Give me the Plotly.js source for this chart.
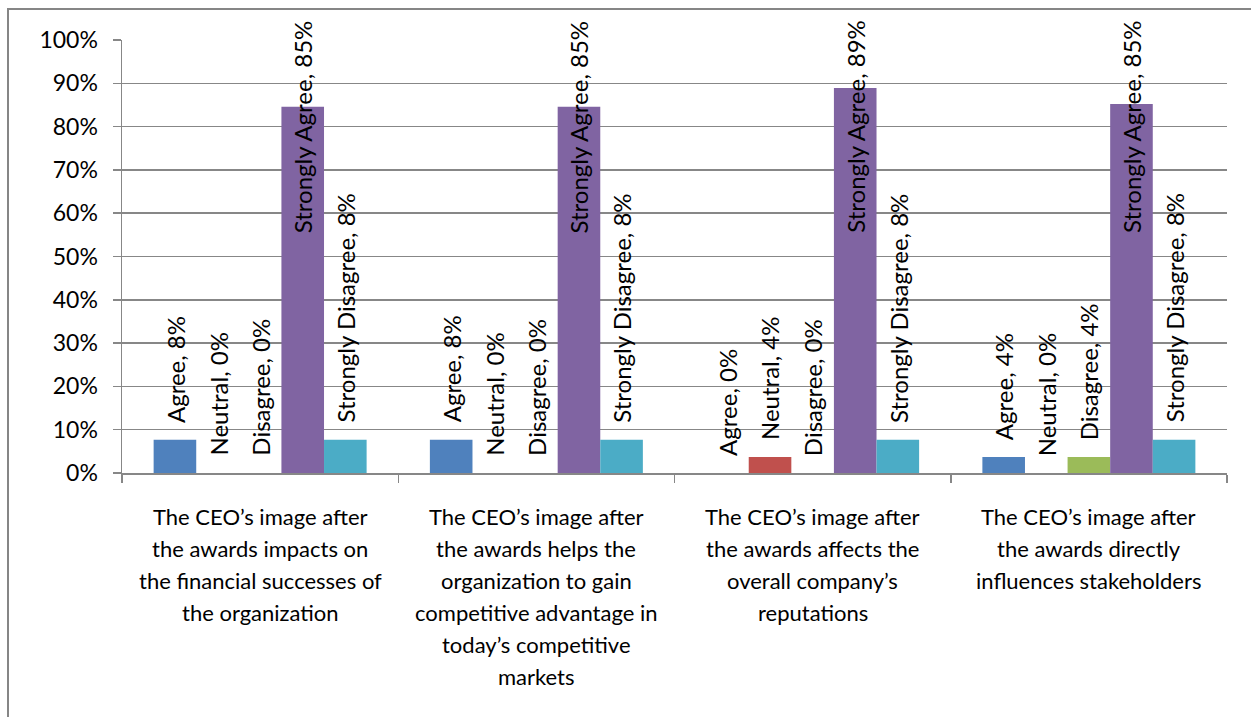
<!DOCTYPE html>
<html>
<head>
<meta charset="utf-8">
<script src="https://cdn.plot.ly/plotly-3.0.1.min.js"></script>
<style>
  html, body { margin: 0; padding: 0; overflow: hidden; background: #fff; }
  #chart { position: absolute; left: 0; top: 0; width: 1251px; height: 717px; }
  #frame { position: absolute; left: 7px; top: 8px; width: 1400px; height: 900px;
           border: 2px solid #868686; pointer-events: none; }
</style>
</head>
<body>
<div id="chart"></div>
<div id="frame"></div>
<script>
// ---- data ----
const categories = [
  "The CEO’s image after<br>the awards impacts on<br>the financial successes of<br>the organization",
  "The CEO’s image after<br>the awards helps the<br>organization to gain<br>competitive advantage in<br>today’s competitive<br>markets",
  "The CEO’s image after<br>the awards affects the<br>overall company’s<br>reputations",
  "The CEO’s image after<br>the awards directly<br>influences stakeholders"
];
const seriesNames = ["Agree", "Neutral", "Disagree", "Strongly Agree", "Strongly Disagree"];
const agree            = [0.077, 0.077, 0.000, 0.037];
const neutral          = [0.000, 0.000, 0.037, 0.000];
const disagree         = [0.000, 0.000, 0.000, 0.037];
const stronglyAgree    = [0.846, 0.846, 0.889, 0.852];
const stronglyDisagree = [0.077, 0.077, 0.077, 0.077];
const yTickVals = [0, 0.1, 0.2, 0.3, 0.4, 0.5, 0.6, 0.7, 0.8, 0.9, 1.0];

// ---- styles ----
const seriesValues = [agree, neutral, disagree, stronglyAgree, stronglyDisagree];
const colors = ["#4F81BD", "#C0504D", "#9BBB59", "#8064A2", "#4BACC6"];
const FONT = "Lato, 'Open Sans', sans-serif";
const FS = 22;
const LABEL_FS = 24;
const TICK_FS = 23;
const GRID = "#878787";
const bargap = 0.229;
const labelCap = 0.515;   // labels are kept inside the chart area
const nS = seriesNames.length;
const barW = (1 - bargap) / nS;

const traces = seriesNames.map((name, i) => ({
  type: "bar",
  name: name,
  x: categories,
  y: seriesValues[i],
  marker: { color: colors[i] },
  hoverinfo: "none"
}));

const annotations = [];
// data labels
seriesNames.forEach((name, i) => {
  seriesValues[i].forEach((v, c) => {
    annotations.push({
      xref: "x", yref: "y",
      x: c + (i - (nS - 1) / 2) * barW,
      y: Math.min(v, labelCap),
      text: name + ", " + Math.round(v * 100) + "%",
      textangle: -90,
      showarrow: false,
      xanchor: "center", yanchor: "bottom",
      yshift: 15,
      font: { family: FONT, size: LABEL_FS, color: "#000" }
    });
  });
});
// category labels (one annotation per line)
categories.forEach((cat, c) => {
  cat.split("<br>").forEach((line, k) => {
    annotations.push({
      xref: "x", yref: "paper",
      x: c, y: 0,
      text: line,
      showarrow: false,
      xanchor: "center", yanchor: "middle",
      yshift: -43 - 32 * k,
      font: { family: FONT, size: FS, color: "#000" }
    });
  });
});

const layout = {
  width: 1251, height: 717,
  margin: { l: 122, r: 24, t: 40, b: 244 },
  paper_bgcolor: "#fff", plot_bgcolor: "#fff",
  showlegend: false,
  barmode: "group",
  bargap: bargap,
  bargroupgap: 0,
  font: { family: FONT, size: FS, color: "#000" },
  xaxis: {
    type: "category",
    showticklabels: false,
    showline: true, linecolor: GRID, linewidth: 1.5,
    ticks: "outside", tickson: "boundaries", ticklen: 8, tickcolor: GRID, tickwidth: 1.5,
    showgrid: false, zeroline: false,
    fixedrange: true
  },
  yaxis: {
    range: [0, 1],
    tickvals: yTickVals,
    tickformat: ".0%",
    showline: true, linecolor: GRID, linewidth: 1.5,
    ticks: "outside", ticklen: 8, tickcolor: GRID, tickwidth: 1.5,
    showgrid: true, gridcolor: GRID, gridwidth: 1.5,
    zeroline: false,
    ticklabelstandoff: 10,
    tickfont: { family: FONT, size: TICK_FS, color: "#000" },
    fixedrange: true
  },
  annotations: annotations
};

Plotly.newPlot("chart", traces, layout, { staticPlot: true, displayModeBar: false });
</script>
</body>
</html>
